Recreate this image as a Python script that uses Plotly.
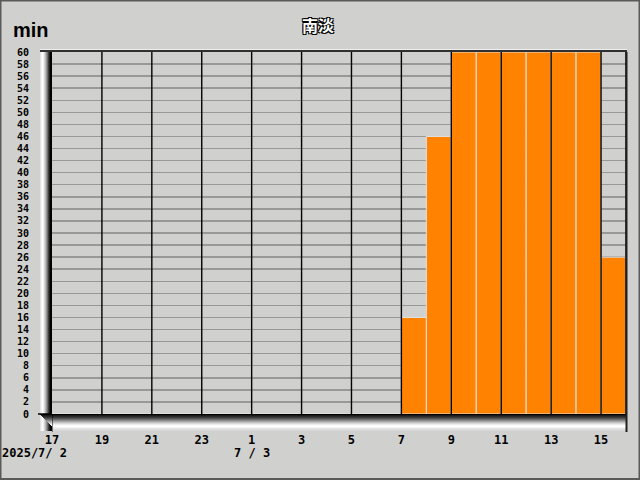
import plotly.graph_objects as go

# ---- data ----
hour_labels = ["17", "18", "19", "20", "21", "22", "23", "0", "1", "2", "3", "4",
               "5", "6", "7", "8", "9", "10", "11", "12", "13", "14", "15"]
minutes = [0, 0, 0, 0, 0, 0, 0, 0, 0, 0, 0, 0, 0, 0,
           16, 46, 60, 60, 60, 60, 60, 60, 26]
tick_labels = ["17", "19", "21", "23", "1", "3", "5", "7", "9", "11", "13", "15"]
y_ticks = list(range(0, 61, 2))
title_text = "南淡"
unit_text = "min"
date1 = "2025/7/ 2"
date2 = "7 / 3"

# ---- layout constants (pixels) ----
W, H = 640, 480
L, R, T, B = 52, 14, 52, 66
PW, PH = W - L - R, H - T - B
BG = "#d0d1ce"


def xf(px):
    return (px - L) / PW


def yf(py):
    return (H - B - py) / PH


idx = list(range(len(hour_labels)))
tick_pos = [i for i in idx if i % 2 == 0]

fig = go.Figure()
fig.add_trace(go.Bar(
    x=idx, y=minutes, width=1, offset=0,
    marker=dict(color="#ff8200", line=dict(color="#e2e2e2", width=1)),
    hoverinfo="skip",
))

shapes = []
# black vertical grid lines over bars
for p in tick_pos[1:] + [len(idx)]:
    shapes.append(dict(type="line", xref="x", yref="paper", x0=p, x1=p, y0=0, y1=1,
                       line=dict(color="#000000", width=1.4), layer="above"))

# left 3D wall gradient
wall_cols = ["#e4e4e4", "#f4f4f4", "#ffffff", "#f0f0f0", "#d8d8d8", "#b8b8b8",
             "#969696", "#707070", "#404040", "#202020", "#000000", "#000000"]
for k, c in enumerate(wall_cols):
    px = 40 + k
    shapes.append(dict(type="rect", xref="paper", yref="paper",
                       x0=xf(px), x1=xf(px + 1), y0=yf(431), y1=yf(50),
                       fillcolor=c, line=dict(width=0), layer="above"))
# top edge
shapes.append(dict(type="rect", xref="paper", yref="paper", x0=xf(40), x1=xf(627),
                   y0=yf(50), y1=yf(49), fillcolor="#f0f0f0", line=dict(width=0), layer="above"))
shapes.append(dict(type="rect", xref="paper", yref="paper", x0=xf(40), x1=xf(627),
                   y0=yf(52), y1=yf(50), fillcolor="#303030", line=dict(width=0), layer="above"))
# floor gradient
floor_cols = ["#000000", "#1a1a1a", "#2a2a2a", "#3c3c3c", "#545454", "#6e6e6e",
              "#8a8a8a", "#a6a6a6", "#c0c0c0", "#d8d8d8", "#ececec", "#fafafa",
              "#ffffff", "#f4f4f4", "#e6e6e6", "#dcdcdc", "#d6d6d6"]
for k, c in enumerate(floor_cols):
    py = 414 + k
    shapes.append(dict(type="rect", xref="paper", yref="paper",
                       x0=xf(40 + min(k, 12) if k > 0 else 40), x1=xf(627),
                       y0=yf(py + 1), y1=yf(py),
                       fillcolor=c, line=dict(width=0), layer="above"))
# right end of floor
shapes.append(dict(type="line", xref="paper", yref="paper", x0=xf(626.5), x1=xf(626.5),
                   y0=yf(432), y1=yf(52), line=dict(color="#202020", width=2), layer="above"))
# zero tick at left
shapes.append(dict(type="line", xref="paper", yref="paper", x0=xf(38), x1=xf(52),
                   y0=yf(414), y1=yf(414), line=dict(color="#000000", width=1.5), layer="above"))
# first hour tick through floor
shapes.append(dict(type="line", xref="x", yref="paper", x0=0, x1=0,
                   y0=yf(432), y1=yf(414), line=dict(color="#000000", width=1), layer="above"))
# outer frame
shapes.append(dict(type="rect", xref="paper", yref="paper", x0=xf(0.5), x1=xf(639.5),
                   y0=yf(479), y1=yf(0.5), line=dict(color="#5a5a5a", width=2),
                   fillcolor="rgba(0,0,0,0)", layer="above"))

tick_font = dict(family="DejaVu Sans Mono", size=12, color="#000000", weight="bold")

fig.update_layout(
    width=W, height=H,
    margin=dict(l=L, r=R, t=T, b=B, autoexpand=False),
    paper_bgcolor=BG, plot_bgcolor=BG,
    showlegend=False,
    bargap=0,
    shapes=shapes,
    xaxis=dict(range=[0, len(idx)], tickmode="array", tickvals=tick_pos,
               ticktext=tick_labels, showgrid=False, zeroline=False,
               showline=False, ticks="", tickfont=tick_font, automargin=False,
               ticklabelstandoff=17, fixedrange=True),
    yaxis=dict(range=[0, 60], tickmode="array", tickvals=y_ticks,
               ticktext=[str(v) for v in y_ticks], showgrid=True,
               gridcolor="#989898", gridwidth=1.5, zeroline=False, showline=False,
               ticks="", tickfont=dict(family="DejaVu Sans Mono", size=10,
                                       color="#000000", weight="bold"),
               automargin=False, ticklabelstandoff=22, fixedrange=True),
    annotations=[
        dict(text=title_text, xref="paper", yref="paper", x=xf(318), y=yf(25),
             showarrow=False, xanchor="center", yanchor="middle",
             font=dict(family="Noto Sans CJK JP", size=16, color="#ffffff", weight="bold",
                       shadow="1px 1px 0 #000, -1px -1px 0 #000, 1px -1px 0 #000, -1px 1px 0 #000")),
        dict(text=unit_text, xref="paper", yref="paper", x=xf(11), y=yf(30),
             showarrow=False, xanchor="left", yanchor="middle",
             font=dict(family="Liberation Sans", size=20, color="#000000", weight="bold")),
        dict(text=date1, xref="paper", yref="paper", x=xf(0), y=yf(453),
             showarrow=False, xanchor="left", yanchor="middle",
             font=tick_font),
        dict(text=date2, xref="x", yref="paper", x=8, y=yf(453),
             showarrow=False, xanchor="center", yanchor="middle",
             font=tick_font),
    ],
)

fig.write_html("out.html", post_script="document.body.style.margin='0';",
               config={"displayModeBar": False, "staticPlot": True})
